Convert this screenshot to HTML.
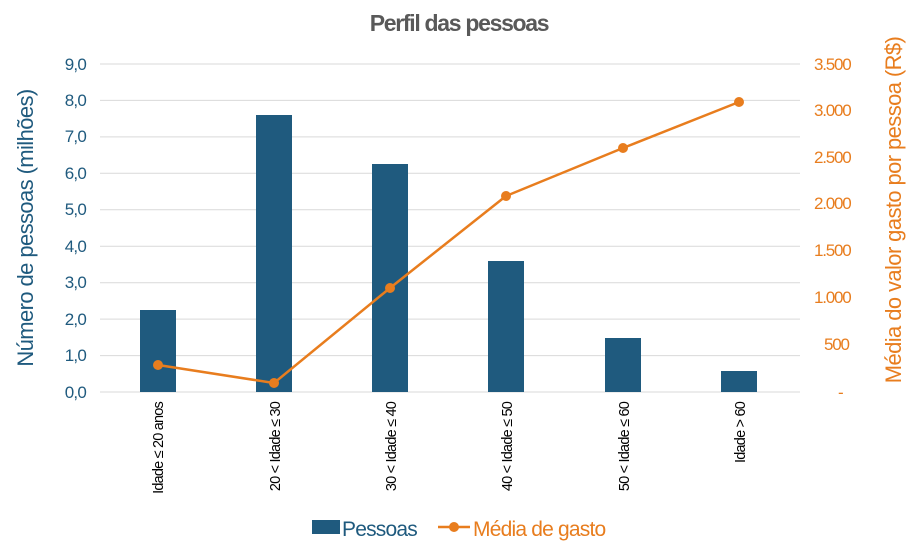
<!DOCTYPE html>
<html><head><meta charset="utf-8"><style>
html,body{margin:0;padding:0;background:#fff;}
svg{display:block;font-family:"Liberation Sans",sans-serif;}
</style></head><body>
<svg width="923" height="548" viewBox="0 0 923 548">
<text x="459" y="31" text-anchor="middle" font-size="23" font-weight="bold" fill="#595959" letter-spacing="-1.3">Perfil das pessoas</text>
<g stroke="#d9d9d9" stroke-width="1">
<line x1="100" x2="800" y1="64" y2="64"/>
<line x1="100" x2="800" y1="100.4" y2="100.4"/>
<line x1="100" x2="800" y1="136.9" y2="136.9"/>
<line x1="100" x2="800" y1="173.3" y2="173.3"/>
<line x1="100" x2="800" y1="209.8" y2="209.8"/>
<line x1="100" x2="800" y1="246.2" y2="246.2"/>
<line x1="100" x2="800" y1="282.7" y2="282.7"/>
<line x1="100" x2="800" y1="319.1" y2="319.1"/>
<line x1="100" x2="800" y1="355.6" y2="355.6"/>
<line x1="100" x2="800" y1="392" y2="392"/>
</g>
<g fill="#1f5a7e" font-size="17" text-anchor="end" letter-spacing="-0.8">
<text x="86" y="70">9,0</text><text x="86" y="106">8,0</text><text x="86" y="142">7,0</text>
<text x="86" y="179">6,0</text><text x="86" y="215">5,0</text><text x="86" y="252">4,0</text>
<text x="86" y="288">3,0</text><text x="86" y="325">2,0</text><text x="86" y="361">1,0</text>
<text x="86" y="398">0,0</text>
</g>
<g fill="#e87d1e" font-size="17" letter-spacing="-1.2">
<text x="814" y="70">3.500</text><text x="814" y="116">3.000</text><text x="814" y="209">2.000</text>
<text x="814" y="163">2.500</text><text x="814" y="256">1.500</text><text x="814" y="303">1.000</text>
<text x="824" y="350">500</text><text x="838" y="398">-</text>
</g>
<text transform="translate(33,228) rotate(-90)" text-anchor="middle" font-size="22" fill="#1f5a7e" letter-spacing="-0.6">Número de pessoas (milhões)</text>
<text transform="translate(901,210) rotate(-90)" text-anchor="middle" font-size="22" fill="#e87d1e" letter-spacing="-0.6">Média do valor gasto por pessoa (R$)</text>
<g fill="#1f5a7e">
<rect x="140" y="310" width="36" height="82"/>
<rect x="256" y="115" width="36" height="277"/>
<rect x="372" y="164" width="36" height="228"/>
<rect x="488" y="261" width="36" height="131"/>
<rect x="605" y="338" width="36" height="54"/>
<rect x="721" y="371" width="36" height="21"/>
</g>
<polyline points="158,365 274,383 390,288 506,196 623,148 739,102" fill="none" stroke="#e87d1e" stroke-width="2.5"/>
<g fill="#e87d1e">
<circle cx="158" cy="365" r="5"/><circle cx="274" cy="383" r="5"/><circle cx="390" cy="288" r="5"/>
<circle cx="506" cy="196" r="5"/><circle cx="623" cy="148" r="5"/><circle cx="739" cy="102" r="5"/>
</g>
<g font-size="14.5" fill="#000" text-anchor="end" letter-spacing="-0.8">
<text transform="translate(163,402) rotate(-90)">Idade ≤ 20 anos</text>
<text transform="translate(280,402) rotate(-90)">20 &lt; Idade ≤ 30</text>
<text transform="translate(396,402) rotate(-90)">30 &lt; Idade ≤ 40</text>
<text transform="translate(512,402) rotate(-90)">40 &lt; Idade ≤ 50</text>
<text transform="translate(629,402) rotate(-90)">50 &lt; Idade ≤ 60</text>
<text transform="translate(745,402) rotate(-90)">Idade &gt; 60</text>
</g>
<rect x="312" y="520" width="28" height="14" fill="#1f5a7e"/>
<text x="342" y="536" font-size="21" fill="#1f5a7e" letter-spacing="-0.8">Pessoas</text>
<line x1="438" x2="470" y1="527" y2="527" stroke="#e87d1e" stroke-width="2.5"/>
<circle cx="454" cy="527" r="5" fill="#e87d1e"/>
<text x="473" y="536" font-size="21" fill="#e87d1e" letter-spacing="-0.8">Média de gasto</text>
</svg>
</body></html>
